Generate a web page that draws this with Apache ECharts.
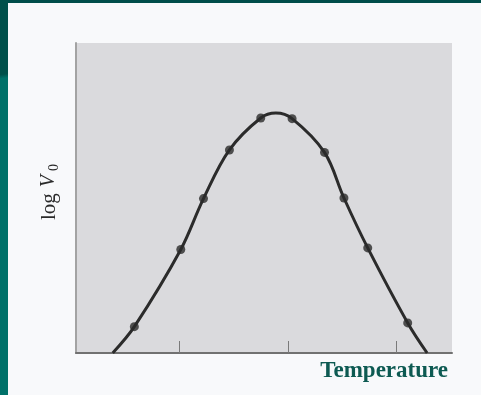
<!DOCTYPE html>
<html>
<head>
<meta charset="utf-8">
<script src="https://cdn.jsdelivr.net/npm/echarts@6/dist/echarts.min.js"></script>
<style>
    html, body { margin: 0; padding: 0; }
    body {
        width: 481px;
        height: 395px;
        background: #f8f9fb;
        position: relative;
        overflow: hidden;
    }
    .bar-top { position: absolute; left: 0; top: 0; width: 481px; height: 3px; background: #004d4a; }
    .bar-left {
        position: absolute; left: 0; top: 0; width: 8px; height: 395px;
        background: linear-gradient(172deg, #00504a 0, #00504a 74px, #007169 78px, #007169 100%);
    }
    #chart { position: absolute; left: 0; top: 0; width: 481px; height: 395px; }
</style>
</head>
<body>
<div class="bar-top"></div>
<div class="bar-left"></div>
<div id="chart"></div>
<script>
// temperature (arbitrary units) and log V0
const curveT = [0.38, 0.58, 1.01, 1.22, 1.46, 1.75, 1.89, 2.04, 2.34, 2.52, 2.74, 3.11, 3.29];
const curveLogV = [0.0, 0.85, 3.34, 4.98, 6.55, 7.58, 7.74, 7.56, 6.47, 5.0, 3.39, 0.97, 0.0];

const dotT = [0.58, 1.01, 1.22, 1.46, 1.75, 2.04, 2.34, 2.52, 2.74, 3.11];
const dotLogV = [0.85, 3.34, 4.98, 6.55, 7.58, 7.56, 6.47, 5.0, 3.39, 0.97];

const tempTicks = [1, 2, 3];

const serif = '"Liberation Serif", "DejaVu Serif", serif';

const chart = echarts.init(document.getElementById('chart'), null, { renderer: 'canvas' });

chart.setOption({
    backgroundColor: 'transparent',
    animation: false,
    grid: {
        left: 76, right: 29, top: 43, bottom: 42,
        show: true,
        backgroundColor: '#dadadd',
        borderWidth: 0,
    },
    xAxis: {
        type: 'value',
        min: 0.04,
        max: 3.52,
        name: 'Temperature',
        nameLocation: 'end',
        nameGap: -4,
        nameTextStyle: {
            color: '#0d5a52',
            fontFamily: serif,
            fontWeight: 'bold',
            fontSize: 23,
            align: 'right',
            verticalAlign: 'top',
            padding: [7, 0, 0, 0],
        },
        axisLine: { show: true, onZero: false, lineStyle: { color: '#717171', width: 2 } },
        axisTick: {
            show: true,
            inside: true,
            length: 12,
            customValues: tempTicks,
            lineStyle: { color: '#7a7a7a', width: 1 },
        },
        axisLabel: { show: false },
        splitLine: { show: false },
    },
    yAxis: {
        type: 'value',
        min: 0,
        max: 10,
        name: '{a|log}{v|V}{s|0}',
        nameLocation: 'middle',
        nameRotate: 90,
        nameGap: 15,
        nameTextStyle: {
            color: '#2a2a2a',
            fontFamily: serif,
            rich: {
                a: { fontFamily: serif, fontSize: 21, color: '#2a2a2a', padding: [0, 6, 0, 12] },
                v: { fontFamily: serif, fontSize: 20, fontStyle: 'italic', color: '#2a2a2a' },
                s: { fontFamily: serif, fontSize: 14, color: '#2a2a2a', padding: [10, 0, 0, 4] },
            },
        },
        axisLine: { show: true, lineStyle: { color: '#a3a3a3', width: 2 } },
        axisTick: { show: false },
        axisLabel: { show: false },
        splitLine: { show: false },
    },
    series: [
        {
            name: 'curve',
            type: 'line',
            data: curveT.map((t, i) => [t, curveLogV[i]]),
            smooth: 0.35,
            showSymbol: false,
            lineStyle: { color: '#2b2b2b', width: 3 },
            z: 2,
        },
        {
            name: 'measured',
            type: 'scatter',
            data: dotT.map((t, i) => [t, dotLogV[i]]),
            symbolSize: 9,
            itemStyle: { color: '#2a2a2a' },
            z: 3,
        },
    ],
});
</script>
</body>
</html>
